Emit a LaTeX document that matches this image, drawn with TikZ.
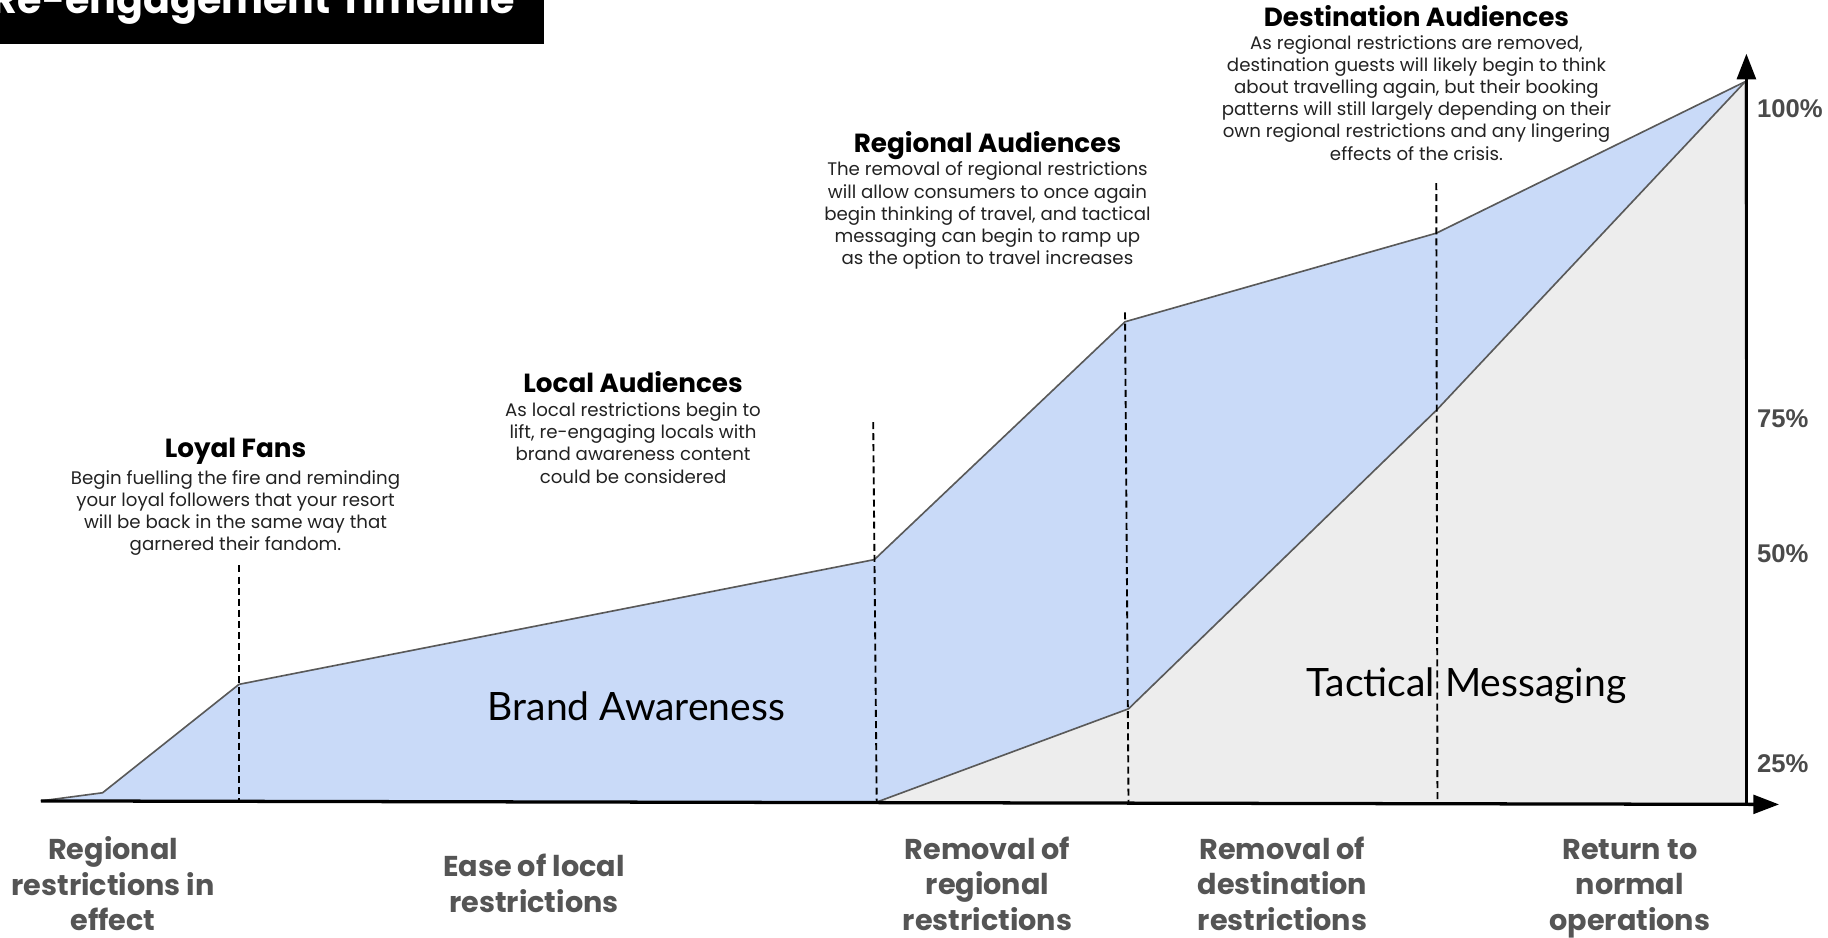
\documentclass[tikz,border=0pt]{standalone}
\usepackage{fontspec}
\setmainfont{Poppins}
\newfontfamily\lightfont{Lato}
\newfontfamily\pctfont{Liberation Sans}
\usetikzlibrary{arrows.meta}
\definecolor{bluefill}{HTML}{C9DAF8}
\definecolor{grayfill}{HTML}{EDEDED}
\definecolor{edgegray}{HTML}{595959}
\definecolor{labelgray}{HTML}{555555}
\definecolor{pctgray}{HTML}{4A4A4A}
\definecolor{bodytext}{HTML}{222222}
\tikzset{
  outline/.style={draw=edgegray,line width=1.4pt,line join=round},
  marker/.style={draw=black,line width=1.6pt,dash pattern=on 6pt off 3.5pt},
  axis/.style={draw=black,line width=2.8pt,-{Triangle[length=22pt,width=16pt]}},
  headtxt/.style={font=\bfseries\fontsize{22.5}{26}\selectfont,text=black,inner sep=0pt},
  bodytxt/.style={font=\fontsize{15.6}{19}\selectfont,text=bodytext,align=center,inner sep=0pt},
  phase/.style={font=\bfseries\fontsize{24.6}{30.5}\selectfont,text=labelgray,align=center,inner sep=0pt,anchor=north},
  pct/.style={font=\pctfont\bfseries\fontsize{22}{26}\selectfont,text=pctgray,anchor=west,inner sep=0pt},
  area/.style={font=\lightfont\fontsize{33.5}{38}\selectfont,text=black,inner sep=0pt}
}
\begin{document}
\begin{tikzpicture}[x=1pt,y=-1pt]
\useasboundingbox (0,0) rectangle (1568,804);
% points
\coordinate (s0) at (35,687);
\coordinate (s1) at (88,680);
\coordinate (loyal) at (205,587);
\coordinate (local) at (750,480);
\coordinate (regional) at (965,276);
\coordinate (dest) at (1232,200);
\coordinate (apex) at (1497,70);
\coordinate (g0) at (752,688);
\coordinate (g1) at (968,608);
\coordinate (g2) at (1232,352);
\coordinate (vbase) at (1498,690);
% fills
\fill[grayfill] (g0) -- (g1) -- (g2) -- (apex) -- (vbase) -- cycle;
\fill[bluefill] (s0) -- (s1) -- (loyal) -- (local) -- (regional) -- (dest) -- (apex) -- (g2) -- (g1) -- (g0) -- cycle;
\draw[outline] (s0) -- (s1) -- (loyal) -- (local) -- (regional) -- (dest) -- (apex);
\draw[outline] (g0) -- (g1) -- (g2) -- (apex);
\draw[draw=edgegray,line width=1.2pt] (apex) -- (vbase);
% dashed markers
\coordinate (d1t) at (205,485); \coordinate (d1b) at (205,688);
\coordinate (d2t) at (749,362); \coordinate (d2b) at (752,688);
\coordinate (d3t) at (965,268); \coordinate (d3b) at (968,690);
\coordinate (d4t) at (1232,157); \coordinate (d4b) at (1233,690);
\draw[marker] (d1t) -- (d1b);
\draw[marker] (d2t) -- (d2b);
\draw[marker] (d3t) -- (d3b);
\draw[marker] (d4t) -- (d4b);
% axes
\coordinate (xend) at (1526,690);
\coordinate (yend) at (1498,46);
\draw[axis] (s0) -- (xend);
\draw[axis,line width=3.2pt] (vbase) -- (yend);
% title box
\fill[black] (0,0) rectangle (467,38);
\node[anchor=base east,inner sep=0pt,text=white,font=\bfseries\fontsize{34}{40}\selectfont] (title) at (442,12) {Re-engagement Timeline};
% annotations
\node[headtxt] (h1) at (202,387) {Loyal Fans};
\node[bodytxt] (b1) at (202,440) {Begin fuelling the fire and reminding\\your loyal followers that your resort\\will be back in the same way that\\garnered their fandom.};
\node[headtxt] (h2) at (543,328) {Local Audiences};
\node[bodytxt] (b2) at (543,380) {As local restrictions begin to\\lift, re-engaging locals with\\brand awareness content\\could be considered};
\node[headtxt] (h3) at (847,125) {Regional Audiences};
\node[bodytxt] (b3) at (847,185) {The removal of regional restrictions\\will allow consumers to once again\\begin thinking of travel, and tactical\\messaging can begin to ramp up\\as the option to travel increases};
\node[headtxt] (h4) at (1215,14) {Destination Audiences};
\node[bodytxt] (b4) at (1215,84) {As regional restrictions are removed,\\destination guests will likely begin to think\\about travelling again, but their booking\\patterns will still largely depending on their\\own regional restrictions and any lingering\\effects of the crisis.};
% area labels
\node[area] (ba) at (546,606) {Brand Awareness};
\node[area] (tm) at (1258,588) {Tactical Messaging};
% percentages
\node[pct] (p100) at (1507,93) {100\%};
\node[pct] (p75) at (1507,359) {75\%};
\node[pct] (p50) at (1507,475) {50\%};
\node[pct] (p25) at (1507,655) {25\%};
% phases
\node[phase] (ph1) at (97,717.5) {Regional\\restrictions in\\effect};
\node[phase] (ph2) at (458,732.5) {Ease of local\\restrictions};
\node[phase] (ph3) at (847,717.5) {Removal of\\regional\\restrictions};
\node[phase] (ph4) at (1100,717.5) {Removal of\\destination\\restrictions};
\node[phase] (ph5) at (1398,719.5) {Return to\\normal\\operations};
\end{tikzpicture}
\end{document}
